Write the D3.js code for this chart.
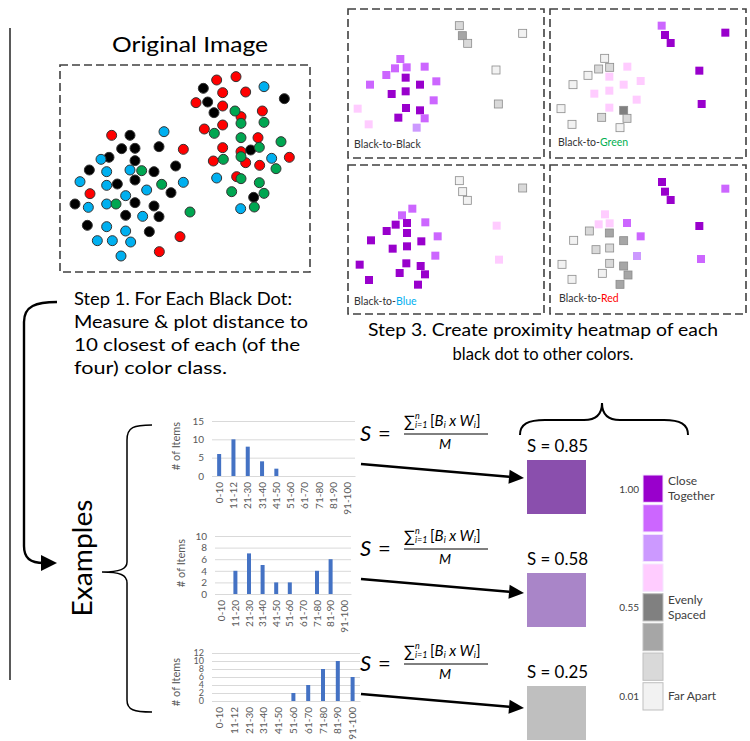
<!DOCTYPE html>
<html><head><meta charset="utf-8">
<script src="https://cdn.jsdelivr.net/npm/d3@7"></script>
<style>
body{margin:0;background:#fff}
svg{display:block}
text{font-family:Lato,"Open Sans",sans-serif}
</style>
</head><body>
<svg id="c" width="750" height="741"></svg>
<script>
// ---------------- DATA ----------------
// Original image dots (read in a 780x645 frame of the dashed box area)
const redDots = [[485,60],[543,50],[503,98],[572,96],[423,128],[503,138],[622,153],[558,170],[448,207],[503,195],[609,233],[503,263],[558,275],[475,303],[572,308],[614,316],[703,292],[545,350],[170,226],[385,268],[105,401],[375,530],[313,575]];
const blackDots = [[445,85],[688,116],[458,126],[477,158],[587,270],[596,412],[225,226],[200,266],[240,265],[312,260],[162,292],[240,302],[103,330],[297,335],[362,318],[187,372],[240,360],[348,398],[60,432],[240,428],[297,438],[212,466],[312,470],[97,496],[283,515]];
const blueDots = [[627,80],[327,215],[138,298],[155,335],[225,330],[75,365],[155,376],[385,367],[275,390],[212,407],[155,432],[100,442],[263,469],[155,500],[212,513],[127,542],[172,542],[227,546],[198,588],[485,354],[650,295],[557,446]];
const greenDots = [[540,153],[558,190],[627,187],[478,220],[558,233],[613,262],[678,245],[558,290],[505,298],[663,326],[260,332],[320,373],[558,356],[613,368],[530,395],[627,400],[598,441],[183,432],[405,456]];

// Heatmap squares per panel: [x, y, level] (level indexes legendColors)
const panelBlack = [[358,62,6],[367,92,5],[383,115,6],[548,85,7],[468,195,7],[475,297,6],[181,162,1],[165,190,1],[200,187,1],[254,185,1],[139,210,1],[197,218,0],[90,239,1],[240,239,0],[289,229,1],[155,267,0],[197,259,0],[281,286,1],[53,311,3],[198,309,0],[240,316,0],[175,338,0],[254,340,1],[86,358,3],[230,368,2]];
const panelGreen = [[350,62,1],[360,90,0],[377,114,0],[541,83,0],[463,197,0],[470,297,0],[179,160,7],[161,192,6],[194,187,6],[247,185,3],[129,211,7],[193,215,3],[84,239,7],[236,239,3],[287,228,3],[148,266,3],[193,257,3],[275,284,3],[48,311,7],[193,308,3],[236,316,4],[170,337,6],[246,340,6],[81,358,7],[225,368,7]];
const panelBlue = [[358,62,7],[368,95,7],[382,121,7],[548,84,6],[470,197,3],[477,299,3],[217,146,1],[186,166,1],[167,194,0],[201,189,0],[256,187,1],[140,213,0],[201,219,0],[93,241,0],[244,244,0],[293,229,1],[158,266,0],[201,259,0],[286,287,1],[59,314,0],[199,310,0],[242,318,0],[179,339,0],[255,343,0],[87,360,0],[234,374,0]];
const panelRed = [[351,66,0],[360,95,0],[377,120,0],[541,86,1],[463,198,0],[468,297,1],[180,163,3],[161,193,3],[194,190,3],[246,189,1],[133,213,6],[193,219,5],[86,241,7],[236,242,5],[287,229,1],[153,269,6],[194,264,6],[276,288,2],[51,313,7],[194,310,6],[236,318,5],[249,345,5],[172,340,7],[81,358,7],[225,373,5]];
const panelNames = ["Black","Green","Blue","Red"];
const panelNameColors = ["#333333","#00b050","#00b0f0","#ff0000"];

// Histograms
const binLabelsA = ["0-10","11-12","21-30","31-40","41-50","51-60","61-70","71-80","81-90","91-100"];
const binLabelsB = ["0-10","11-20","21-30","31-40","41-50","51-60","61-70","71-80","81-90","91-100"];
const counts1 = [6,10,8,4,2,0,0,0,0,0];
const counts2 = [0,4,7,5,2,2,0,4,6,0];
const counts3 = [0,0,0,0,0,2,4,8,10,6];
const yTicks1 = [0,5,10,15];
const yTicks2 = [0,2,4,6,8,10];
const yTicks3 = [0,2,4,6,8,10,12];

// Scores
const scores = ["0.85","0.58","0.25"];
const scoreColors = ["#8a4fad","#a985c8","#bfbfbf"];

// Legend
const legendColors = ["#9900cc","#cc66ff","#cc99ff","#ffccff","#808080","#a6a6a6","#d9d9d9","#f2f2f2"];
const legendValues = ["1.00","","","","0.55","","","0.01"];
const legendLabels = [["Close","Together"],[],[],[],["Evenly","Spaced"],[],[],["Far Apart"]];

// ---------------- DRAW ----------------
const svg = d3.select("#c");
const dotColor = {red:"#ff0000",black:"#000000",blue:"#00b0f0",green:"#00a651"};

// vertical line at left
svg.append("line").attr("x1",10).attr("x2",10).attr("y1",28).attr("y2",680).attr("stroke","#000").attr("stroke-width",1.3);

// Original Image
svg.append("text").attr("x",190).attr("y",52).attr("text-anchor","middle").attr("font-size",22)
  .attr("textLength",156).attr("lengthAdjust","spacingAndGlyphs").text("Original Image");
svg.append("rect").attr("x",60).attr("y",65).attr("width",250).attr("height",207)
  .attr("fill","none").attr("stroke","#404040").attr("stroke-width",1.6).attr("stroke-dasharray","8,4");
const dx = d3.scaleLinear().domain([0,780]).range([55,315]);
const dy = d3.scaleLinear().domain([0,645]).range([60,275]);
const dotG = svg.append("g");
[["red",redDots],["black",blackDots],["blue",blueDots],["green",greenDots]].forEach(([c,arr])=>{
  dotG.selectAll(null).data(arr).enter().append("circle")
    .attr("cx",d=>dx(d[0])).attr("cy",d=>dy(d[1])).attr("r",5)
    .attr("fill",dotColor[c]).attr("stroke","#333").attr("stroke-width",1);
});

// Heatmap panels
const panels = [
  {data:panelBlack, frame:[340,5], rect:[348,9], label:[354,148]},
  {data:panelGreen, frame:[545,5], rect:[550,9], label:[558,146]},
  {data:panelBlue,  frame:[340,160], rect:[348,165], label:[354,305]},
  {data:panelRed,   frame:[545,160], rect:[550,165], label:[559,302]}
];
panels.forEach((p,i)=>{
  const g = svg.append("g");
  g.append("rect").attr("x",p.rect[0]).attr("y",p.rect[1]).attr("width",196).attr("height",149)
    .attr("fill","none").attr("stroke","#404040").attr("stroke-width",1.6).attr("stroke-dasharray","8,4");
  const sx = d3.scaleLinear().domain([0,615]).range([p.frame[0],p.frame[0]+205]);
  const sy = d3.scaleLinear().domain([0,465]).range([p.frame[1],p.frame[1]+155]);
  g.selectAll(null).data(p.data).enter().append("rect")
    .attr("x",d=>sx(d[0])-4).attr("y",d=>sy(d[1])-4).attr("width",8).attr("height",8)
    .attr("fill",d=>legendColors[d[2]])
    .attr("stroke",d=>d[2]>=4?"#8c8c8c":"none").attr("stroke-width",0.8);
  const t = g.append("text").attr("x",p.label[0]).attr("y",p.label[1]).attr("font-size",10.5).attr("fill","#333");
  t.append("tspan").text("Black-to-");
  t.append("tspan").attr("fill",panelNameColors[i]).text(panelNames[i]);
});

// Step texts
function lines(arr, x, anchor, size){
  arr.forEach(([s,y,w])=>{
    svg.append("text").attr("x",x).attr("y",y).attr("font-size",size).attr("text-anchor",anchor)
      .attr("textLength",w).attr("lengthAdjust","spacingAndGlyphs").text(s);
  });
}
lines([["Step 1. For Each Black Dot:",305,218],["Measure & plot distance to",328,234],["10 closest of each (of the",351,226],["four) color class.",374,153]],74,"start",18);
lines([["Step 3. Create proximity heatmap of each",336,350],["black dot to other colors.",360,181]],543,"middle",18);

// Curved arrow step1 -> examples
svg.append("path").attr("d","M57,302 C36,302 24,306 24,322 L24,546 C24,558 30,563 44,563")
  .attr("fill","none").attr("stroke","#000").attr("stroke-width",2.4);
svg.append("path").attr("d","M57,563 L41,555 L41,571 Z").attr("fill","#000");

// Examples text
svg.append("text").attr("transform","translate(92,558) rotate(-90)").attr("text-anchor","middle")
  .attr("font-size",27).attr("textLength",117).attr("lengthAdjust","spacingAndGlyphs").text("Examples");

// Examples brace
svg.append("path").attr("d","M152,425 C134,425 127,427 127,440 L127,562 C127,569 120,572 102,572 C120,572 127,575 127,583 L127,700 C127,710 134,712 152,712")
  .attr("fill","none").attr("stroke","#000").attr("stroke-width",1.5);

// Histograms
const hists = [
  {counts:counts1, labels:binLabelsA, ticks:yTicks1, ymax:15, x:[212,355], y:[476,421], labX:180, labY:446, fs:10},
  {counts:counts2, labels:binLabelsB, ticks:yTicks2, ymax:10, x:[215,351], y:[594,536], labX:185, labY:563, fs:10},
  {counts:counts3, labels:binLabelsA, ticks:yTicks3, ymax:12, x:[212,360], y:[701,653], labX:180, labY:682, fs:9}
];
hists.forEach(h=>{
  const g = svg.append("g");
  const x = d3.scaleBand().domain(h.labels.map((d,i)=>i)).range(h.x);
  const y = d3.scaleLinear().domain([0,h.ymax]).range(h.y);
  const ya = g.append("g").attr("transform",`translate(${h.x[0]},0)`)
    .call(d3.axisLeft(y).tickValues(h.ticks).tickSize(-(h.x[1]-h.x[0])).tickPadding(8));
  ya.select(".domain").remove();
  ya.selectAll("line").attr("stroke","#d9d9d9");
  ya.selectAll("text").attr("fill","#595959").attr("font-size",h.fs).attr("font-family","Lato,sans-serif");
  const xa = g.append("g").attr("transform",`translate(0,${h.y[0]})`)
    .call(d3.axisBottom(x).tickSize(0).tickFormat(i=>h.labels[i]));
  xa.select(".domain").attr("stroke","#d9d9d9");
  xa.selectAll("text").attr("transform","rotate(-90)").attr("text-anchor","end")
    .attr("x",-6).attr("y",0).attr("dy","0.35em")
    .attr("fill","#595959").attr("font-size",10).attr("font-family","Lato,sans-serif");
  g.selectAll(null).data(h.counts.map((v,i)=>({v,i})).filter(d=>d.v>0)).enter().append("rect")
    .attr("x",d=>x(d.i)+x.bandwidth()/2-2).attr("width",4)
    .attr("y",d=>y(d.v)).attr("height",d=>y(0)-y(d.v)).attr("fill","#4472c4");
  g.append("text").attr("transform",`translate(${h.labX},${h.labY}) rotate(-90)`).attr("text-anchor","middle")
    .attr("font-size",11).attr("fill","#595959").text("# of Items");
});

// Formulas and arrows
const serif = "'Liberation Serif','DejaVu Serif',serif";
[434,549,664].forEach((y0,k)=>{
  const g = svg.append("g").attr("font-family",serif);
  g.append("text").attr("x",360).attr("y",y0+7).attr("font-size",22).attr("font-style","italic").text("S");
  g.append("text").attr("x",378).attr("y",y0+7).attr("font-size",22).text("=");
  g.append("text").attr("x",404).attr("y",y0-7).attr("font-size",16).text("∑");
  g.append("text").attr("x",415).attr("y",y0-15).attr("font-size",9).attr("font-style","italic").text("n");
  g.append("text").attr("x",415).attr("y",y0-6).attr("font-size",9).attr("font-style","italic").text("i=1");
  const n = g.append("text").attr("x",430).attr("y",y0-8).attr("font-size",15);
  n.append("tspan").text("[");
  n.append("tspan").attr("font-style","italic").text("B");
  n.append("tspan").attr("font-style","italic").attr("font-size",9).attr("dy",2).text("i");
  n.append("tspan").attr("font-style","italic").attr("dy",-2).text(" x W");
  n.append("tspan").attr("font-style","italic").attr("font-size",9).attr("dy",2).text("i");
  n.append("tspan").attr("dy",-2).text("]");
  g.append("line").attr("x1",404).attr("x2",488).attr("y1",y0).attr("y2",y0).attr("stroke","#000").attr("stroke-width",1);
  g.append("text").attr("x",445).attr("y",y0+15).attr("font-size",14).attr("font-style","italic").attr("text-anchor","middle").text("M");
  // arrow
  const x1=361, y1=y0+30, x2=524, y2=y0+44;
  const ang = Math.atan2(y2-y1,x2-x1);
  const L=15, W=7;
  const bx = x2-L*Math.cos(ang), by = y2-L*Math.sin(ang);
  svg.append("line").attr("x1",x1).attr("y1",y1).attr("x2",bx).attr("y2",by).attr("stroke","#000").attr("stroke-width",2.4);
  svg.append("path").attr("d",`M${x2},${y2} L${bx+W*Math.sin(ang)},${by-W*Math.cos(ang)} L${bx-W*Math.sin(ang)},${by+W*Math.cos(ang)} Z`).attr("fill","#000");
});

// Score boxes
scores.forEach((s,i)=>{
  const top = 460 + i*113;
  svg.append("text").attr("x",527).attr("y",top-8).attr("font-size",18).attr("textLength",61).attr("lengthAdjust","spacingAndGlyphs").text("S = "+s);
  svg.append("rect").attr("x",527).attr("y",top).attr("width",59).attr("height",54).attr("fill",scoreColors[i]);
});

// Top brace
svg.append("path").attr("d","M520,435 C520,424 528,420 545,420 L584,420 C597,420 602,413 602,403 C602,413 607,420 620,420 L664,420 C680,420 688,424 688,435")
  .attr("fill","none").attr("stroke","#000").attr("stroke-width",2);

// Legend
const ly = d3.scaleBand().domain(legendColors.map((d,i)=>i)).range([475,710]).paddingInner(0.08);
const lg = svg.append("g");
lg.selectAll(null).data(legendColors).enter().append("rect")
  .attr("x",643).attr("y",(d,i)=>ly(i)).attr("width",20).attr("height",ly.bandwidth())
  .attr("fill",d=>d).attr("stroke",(d,i)=>i>=4?"#bfbfbf":"#f4e6ff").attr("stroke-width",1);
legendValues.forEach((v,i)=>{
  if(!v) return;
  lg.append("text").attr("x",639).attr("y",ly(i)+ly.bandwidth()/2+4).attr("text-anchor","end")
    .attr("font-size",10).attr("fill","#404040").text(v);
});
legendLabels.forEach((arr,i)=>{
  const c = ly(i)+ly.bandwidth()/2;
  arr.forEach((s,j)=>{
    lg.append("text").attr("x",668).attr("y",c+4+(j-(arr.length-1)/2)*15)
      .attr("font-size",12).attr("fill","#404040").text(s);
  });
});
</script>
</body></html>
